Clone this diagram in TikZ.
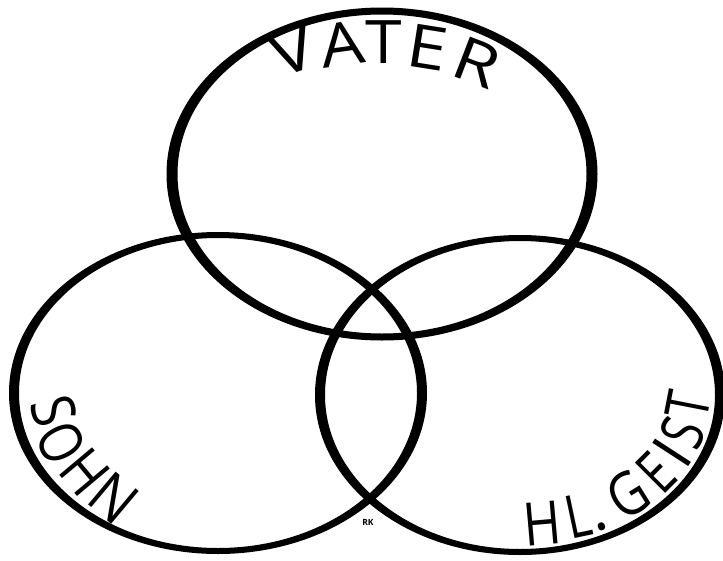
\documentclass[tikz,border=0pt]{standalone}
\usepackage{fontspec}
\newfontfamily\lettfont{Open Sans}
\begin{document}
\begin{tikzpicture}[x=1pt,y=-1pt,
  ring/.style={fill=black, even odd rule},
  lett/.style={font=\lettfont\fontsize{60}{62}\selectfont, inner sep=0pt, anchor=center},
  sigstyle/.style={font=\lettfont\bfseries\fontsize{8.5}{9}\selectfont, inner sep=0pt}]
\useasboundingbox (0,0) rectangle (723,560);
\fill[white] (0,0) rectangle (723,560);
% three rings
\fill[ring] (382,174) ellipse [x radius=215.5pt, y radius=166.5pt]
            (382,174) ellipse [x radius=204.5pt, y radius=159.5pt];
\fill[ring] (218,393) ellipse [x radius=209pt, y radius=161pt]
            (218,393) ellipse [x radius=199pt, y radius=155pt];
\fill[ring] (520,395) ellipse [x radius=205pt, y radius=160pt]
            (520,395) ellipse [x radius=195pt, y radius=154pt];
% VATER
\node[lett, rotate=19]  (v1) at (293,51) {\scalebox{1.2}[1]{V}};
\node[lett, rotate=8]   (v2) at (342,44) {\scalebox{1.15}[1]{A}};
\node[lett, rotate=0]   (v3) at (384,42) {\scalebox{1.1}[1]{T}};
\node[lett, rotate=-9]  (v4) at (428,47) {\scalebox{1.2}[1]{E}};
\node[lett, rotate=-21] (v5) at (477,62) {\scalebox{1.2}[1]{R}};
% SOHN
\node[lett, rotate=-74] (s1) at (54,411)  {\scalebox{0.85}[1]{S}};
\node[lett, rotate=-62] (s2) at (61,443)  {\scalebox{0.8}[1]{O}};
\node[lett, rotate=-50] (s3) at (85,472)  {\scalebox{0.85}[1]{H}};
\node[lett, rotate=-40] (s4) at (114,498) {\scalebox{0.9}[1]{N}};
% HL.GEIST
\node[lett, rotate=5]  (g1) at (542,524) {\scalebox{0.85}[1]{H}};
\node[lett, rotate=12] (g2) at (578,516) {\scalebox{0.8}[1]{L}};
\node[lett, rotate=20, anchor=base] (g3) at (603,530) {.};
\node[lett, rotate=32] (g4) at (628,494) {\scalebox{0.85}[1]{G}};
\node[lett, rotate=45] (g5) at (656,473) {\scalebox{0.75}[1]{E}};
\node[lett, rotate=57] (g6) at (672,453) {I};
\node[lett, rotate=67] (g7) at (683,433) {\scalebox{0.75}[1]{S}};
\node[lett, rotate=79] (g8) at (688,405) {\scalebox{0.8}[1]{T}};
% signature
\node[sigstyle] (rk) at (368,522) {RK};
\end{tikzpicture}
\end{document}
